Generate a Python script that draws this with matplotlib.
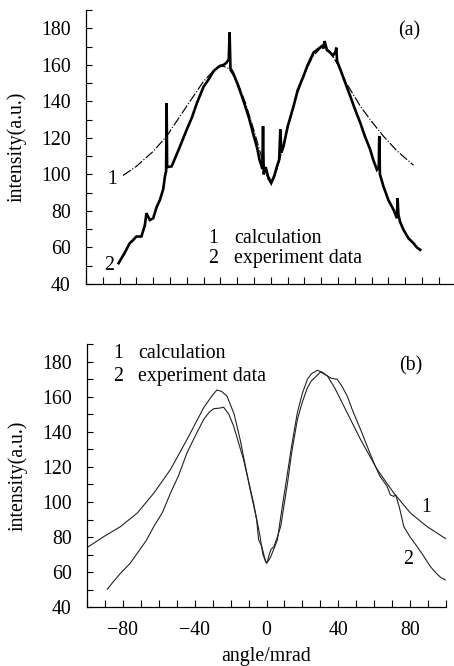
import matplotlib
matplotlib.use("Agg")
import matplotlib.pyplot as plt
from matplotlib.ticker import MultipleLocator, FixedLocator

plt.rcParams['font.family'] = ['Liberation Serif', 'DejaVu Serif']
plt.rcParams['mathtext.fontset'] = 'stix'

# ---- panel (a) ----
exp_a_x = [-90.6, -87, -84, -82, -80, -77, -75, -74, -72, -70,
           -68, -66, -64, -63, -62.3, -62, -61.7, -59, -56, -54,
           -50, -47, -44, -40, -37, -34, -30.5, -28, -26.5, -25,
           -24.5, -24, -22.5, -20, -16.5, -13, -10.6, -8, -6.7, -5,
           -4.6, -4.2, -3, -1.7, 0.3, 2, 3.7, 5, 5.7, 6.3,
           7.6, 10, 13.6, 16, 19.5, 22, 25.5, 28, 30.5, 31.5,
           32, 33.5, 35.4, 37, 38.5, 39, 39.5, 41.4, 44, 47.3,
           50, 53.3, 56, 59.2, 61, 63.2, 64.3, 64.6, 65, 67.1,
           70, 73.1, 75.1, 75.5, 76, 77, 79, 82, 85, 87, 89]
exp_a_y = [51.4, 57, 62.3, 64, 66, 66, 72, 78.8, 75, 76,
           82, 86, 92, 99, 101.7, 139, 104, 104.4, 111, 115.4,
           124.6, 131, 139, 148, 152, 156.6, 159.3, 160, 161, 163,
           177.7, 158, 155.7, 150, 141, 131, 122.7, 114, 108, 103,
           126.4, 100, 104, 99, 95.3, 99, 104.4, 108, 124.6, 112,
           115.4, 126, 137.4, 146, 153.8, 160, 166.7, 168.5, 170.3, 169,
           173, 168, 166.7, 165, 167, 169.4, 162, 157.5, 151, 142.9,
           136, 128.2, 121, 113.6, 108, 102.6, 104, 120.9, 100, 93.4,
           86, 80.6, 76, 87, 78, 74, 69.7, 65, 62.3, 60, 58.7]

calc_a_x = [-88, -80, -70, -62, -50, -40, -32.4, -28.5, -25, -20,
            -15, -10, -5, -2, 0, 2, 5, 10, 15, 20,
            25, 30, 33, 36, 40, 45, 53.3, 60, 67.1, 75, 85]
calc_a_y = [99.4, 104.4, 112.6, 120.9, 137.4, 151, 158.4, 159.3, 158, 151,
            139, 124, 108, 98, 95, 98, 107, 125, 142, 155,
            164.5, 169.5, 169.5, 166, 160, 150, 137.4, 129, 120.9, 113, 105]

# ---- panel (b) ----
calc_b_x = [-100, -90.6, -81.3, -72, -62.8, -53.5, -44.3, -35, -30, -27.6,
            -25, -22, -18, -14.7, -9.1, -5, -3.6, -2, 0, 2,
            4, 6.1, 8, 11.7, 14, 17.2, 20, 22.8, 25, 28.3,
            31, 33.9, 38, 43.1, 52.4, 61.7, 70.9, 80.2, 89.4, 100]
calc_b_y = [74, 80.3, 86, 93.7, 105, 118.5, 135.6, 153.7, 161, 163.8,
            163, 160.3, 150, 135.6, 107, 88, 80.3, 70, 65, 68,
            73, 78.5, 92, 116.6, 132, 150.9, 162, 169.9, 173, 175,
            174, 171.8, 165, 154.6, 135.6, 118.5, 105.1, 93.7, 86, 79]

exp_b_x = [-88.7, -85, -81.3, -76, -72, -67, -62.8, -58, -53.5, -49,
           -44.3, -40, -35, -32, -29.5, -26, -23.9, -21, -18.3, -12.8,
           -7.2, -5.5, -4.4, -2.6, -1.5, -0.5, 0.5, 1.5, 2.5, 4.2,
           6, 7.9, 11.7, 14, 17.2, 20, 22.8, 25, 28.3, 30,
           32, 34, 36, 39.4, 42, 45, 48, 52.4, 56, 59.8,
           63, 67.2, 69, 70.9, 72, 74, 76.5, 80, 83.9, 87,
           91.3, 94, 97, 99.6]
exp_b_y = [50.3, 55, 59.4, 65, 70.8, 78, 86, 94, 105, 115,
           128, 137, 147, 151, 153.1, 153.5, 154, 150, 143.2, 124.2,
           99.4, 90, 78.5, 74.6, 70, 66, 66, 70, 73, 74.6,
           80, 86, 110.8, 128, 147, 157, 165.1, 169, 172.2, 174,
           173, 171.8, 170.5, 169.9, 166, 160.3, 152, 141.3, 132, 122.3,
           115, 108.9, 104, 103.2, 104, 97, 86, 80, 74.6, 70,
           63.2, 60, 57, 55.6]

y_major = [40, 60, 80, 100, 120, 140, 160, 180]
x_labels_b = [-80, -40, 0, 40, 80]

W, H = 454, 666
fig = plt.figure(figsize=(W / 100, H / 100), dpi=100)

def rect(l, r, t, b):
    return [l / W, 1 - b / H, (r - l) / W, (b - t) / H]

ax1 = fig.add_axes(rect(86, 453, 10, 284))
ax2 = fig.add_axes(rect(87, 446, 344, 607.3))

FS = 14.3
for ax in (ax1, ax2):
    for s in ('top', 'right'):
        ax.spines[s].set_visible(False)
    ax.spines['left'].set_linewidth(0.9)
    ax.spines['bottom'].set_linewidth(0.9)
    ax.set_ylim(40, 190)
    ax.yaxis.set_major_locator(FixedLocator(y_major))
    ax.yaxis.set_minor_locator(MultipleLocator(10))
    ax.tick_params(axis='both', which='both', direction='in', width=0.8,
                   labelsize=FS, pad=11)
    ax.tick_params(axis='y', which='both', length=4.5)
    ax.tick_params(axis='x', which='both', length=5)
    ax.set_ylabel('intensity(a.u.)', fontsize=FS)

ax1.yaxis.set_label_coords(-0.161, 0.5)
ax2.yaxis.set_label_coords(-0.167, 0.5)

# panel (a)
ax1.set_xlim(-110, 108.5)
ax1.xaxis.set_major_locator(MultipleLocator(10))
ax1.tick_params(axis='x', labelbottom=False)
ax1.plot(calc_a_x, calc_a_y, color='black', lw=0.85, ls=(0, (8, 1.6, 1, 1.6)))
ax1.plot(exp_a_x, exp_a_y, color='black', lw=1.9, solid_joinstyle='miter')
ax1.text(-94.3, 97.1, '1', fontsize=FS, ha='center', va='center')
ax1.text(-96, 49.9, '2', fontsize=FS, ha='center', va='center')
ax1.text(-34.2, 62.5, '1', fontsize=FS, ha='center', va='baseline')
ax1.text(-21.7, 62.5, 'calculation', fontsize=FS, ha='left', va='baseline')
ax1.text(-34.2, 51.5, '2', fontsize=FS, ha='center', va='baseline')
ax1.text(-21.7, 51.5, 'experiment data', fontsize=FS, ha='left', va='baseline')
ax1.text(82.4, 178.4, '(a)', fontsize=FS, ha='center', va='center')

# panel (b)
ax2.set_xlim(-100, 100)
ax2.xaxis.set_major_locator(FixedLocator(x_labels_b))
ax2.xaxis.set_minor_locator(MultipleLocator(10))
ax2.set_xticklabels([('\u2212' + str(-v)) if v < 0 else str(v) for v in x_labels_b])
ax2.tick_params(axis='x', pad=10)
ax2.plot(calc_b_x, calc_b_y, color='#222222', lw=0.8)
ax2.plot(exp_b_x, exp_b_y, color='#222222', lw=0.8)
ax2.text(-82.6, 181.9, '1', fontsize=FS, ha='center', va='baseline')
ax2.text(-71.5, 181.9, 'calculation', fontsize=FS, ha='left', va='baseline')
ax2.text(-82.6, 168.7, '2', fontsize=FS, ha='center', va='baseline')
ax2.text(-71.5, 168.7, 'experiment data', fontsize=FS, ha='left', va='baseline')
ax2.text(80.2, 177.3, '(b)', fontsize=FS, ha='center', va='center')
ax2.text(89, 96.7, '1', fontsize=FS, ha='center', va='center')
ax2.text(79, 67, '2', fontsize=FS, ha='center', va='center')
ax2.set_xlabel('angle/mrad', fontsize=FS, labelpad=5)

fig.savefig('out.png', dpi=100)
